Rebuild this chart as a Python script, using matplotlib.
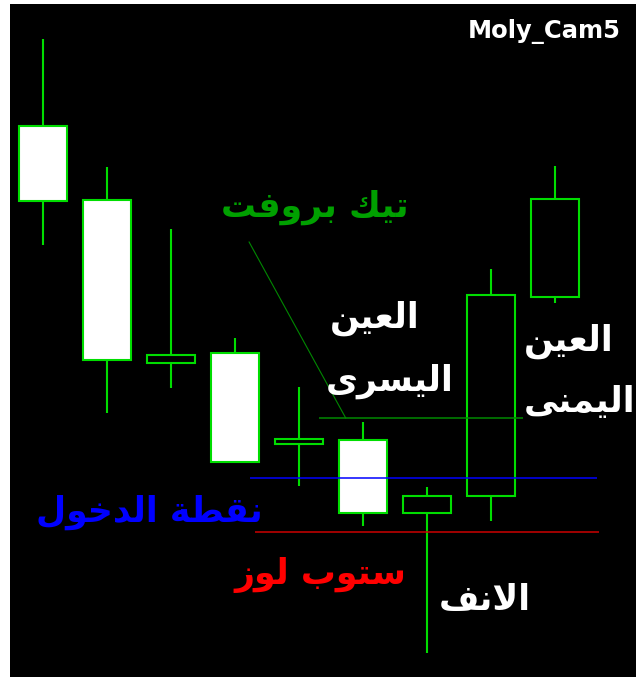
import matplotlib
matplotlib.use("Agg")
import matplotlib.pyplot as plt

# ---------------- data (price units, 0 = bottom of the chart) ----------------
candle_idx = [0, 1, 2, 3, 4, 5, 6, 7, 8]
opens  = [551, 477, 314, 324, 233, 237, 164, 181, 380]
highs  = [638, 510, 448, 339, 290, 255, 190, 408, 511]
lows   = [432, 264, 289, 215, 191, 151, 24, 156, 374]
closes = [476, 317, 322, 215, 238, 164, 181, 382, 478]

# levels: (price, x start, x end)
tp_level = (259, 4.31, 7.5)
entry_level = (199, 3.23, 8.66)
stop_level = (145, 3.31, 8.69)
tp_pointer = ([3.22, 4.73], [435, 259])

labels = ["تيك بروفت", "العين", "اليسرى", "العين", "اليمنى",
          "نقطة الدخول", "ستوب لوز", "الانف"]
label_x = [4.25, 5.19, 5.42, 8.22, 8.39, 1.66, 4.33, 6.91]
label_y = [470, 359, 296, 336, 275, 165, 102, 77]
label_colors = ["#00a000", "white", "white", "white", "white",
                "#0000ff", "#ff0000", "white"]

# ---------------- simple arabic shaping (matplotlib has none) ----------------
FORMS = {
    'ا': ('\uFE8D', '\uFE8E', None, None),
    'ب': ('\uFE8F', '\uFE90', '\uFE91', '\uFE92'),
    'ة': ('\uFE93', '\uFE94', None, None),
    'ت': ('\uFE95', '\uFE96', '\uFE97', '\uFE98'),
    'خ': ('\uFEA5', '\uFEA6', '\uFEA7', '\uFEA8'),
    'د': ('\uFEA9', '\uFEAA', None, None),
    'ر': ('\uFEAD', '\uFEAE', None, None),
    'ز': ('\uFEAF', '\uFEB0', None, None),
    'س': ('\uFEB1', '\uFEB2', '\uFEB3', '\uFEB4'),
    'ط': ('\uFEC1', '\uFEC2', '\uFEC3', '\uFEC4'),
    'ع': ('\uFEC9', '\uFECA', '\uFECB', '\uFECC'),
    'ف': ('\uFED1', '\uFED2', '\uFED3', '\uFED4'),
    'ق': ('\uFED5', '\uFED6', '\uFED7', '\uFED8'),
    'ك': ('\uFED9', '\uFEDA', '\uFEDB', '\uFEDC'),
    'ل': ('\uFEDD', '\uFEDE', '\uFEDF', '\uFEE0'),
    'م': ('\uFEE1', '\uFEE2', '\uFEE3', '\uFEE4'),
    'ن': ('\uFEE5', '\uFEE6', '\uFEE7', '\uFEE8'),
    'و': ('\uFEED', '\uFEEE', None, None),
    'ى': ('\uFEEF', '\uFEF0', None, None),
    'ي': ('\uFEF1', '\uFEF2', '\uFEF3', '\uFEF4'),
}


def shape(text):
    res = []
    i = 0
    while i < len(text):
        c = text[i]
        if c not in FORMS:
            res.append(c)
            i += 1
            continue
        prev = text[i - 1] if i > 0 else None
        jp = prev in FORMS and FORMS[prev][2] is not None
        if c == 'ل' and i + 1 < len(text) and text[i + 1] == 'ا':
            res.append('\uFEFC' if jp else '\uFEFB')
            i += 2
            continue
        nxt = text[i + 1] if i + 1 < len(text) else None
        jn = FORMS[c][2] is not None and nxt in FORMS
        iso, fin, ini, med = FORMS[c]
        res.append(med if jp and jn else fin if jp else ini if jn else iso)
        i += 1
    return ''.join(reversed(res))


# ---------------- plot ----------------
fig = plt.figure(figsize=(6.36, 6.77), dpi=100, facecolor="white")
ax = fig.add_axes([10 / 636, 0, 626 / 636, 673 / 677])
ax.set_facecolor("black")
ax.set_xlim(-33 / 64, 593 / 64)
ax.set_ylim(0, 673)
ax.axis("off")
ax.add_patch(plt.Rectangle((0, 0), 1, 1, transform=ax.transAxes,
                           facecolor="black", zorder=0))

candle_green = "#00dd00"
ax.vlines(candle_idx, lows, highs, color=candle_green, lw=1.5, zorder=2)
bottoms = [min(o, c) for o, c in zip(opens, closes)]
heights = [abs(c - o) for o, c in zip(opens, closes)]
fills = ["white" if c < o else "black" for o, c in zip(opens, closes)]
ax.bar(candle_idx, heights, bottom=bottoms, width=0.75, color=fills,
       edgecolor=candle_green, linewidth=1.5, zorder=3)

ax.hlines(tp_level[0], tp_level[1], tp_level[2], color="#008800", lw=1.1, zorder=4)
ax.hlines(entry_level[0], entry_level[1], entry_level[2], color="#0000ff", lw=1.1, zorder=4)
ax.hlines(stop_level[0], stop_level[1], stop_level[2], color="#cc0000", lw=1.1, zorder=4)
ax.plot(tp_pointer[0], tp_pointer[1], color="#008800", lw=0.8, zorder=4)

for txt, x, y, col in zip(labels, label_x, label_y, label_colors):
    ax.text(x, y, shape(txt), color=col, fontsize=25, fontweight="bold",
            ha="center", va="center", family="DejaVu Sans", zorder=5)

ax.text(9.02, 645, "Moly_Cam5", color="white", fontsize=17.5, fontweight="bold",
        ha="right", va="center", family="DejaVu Sans", zorder=5)

fig.savefig("out.png", dpi=100, facecolor="white")
